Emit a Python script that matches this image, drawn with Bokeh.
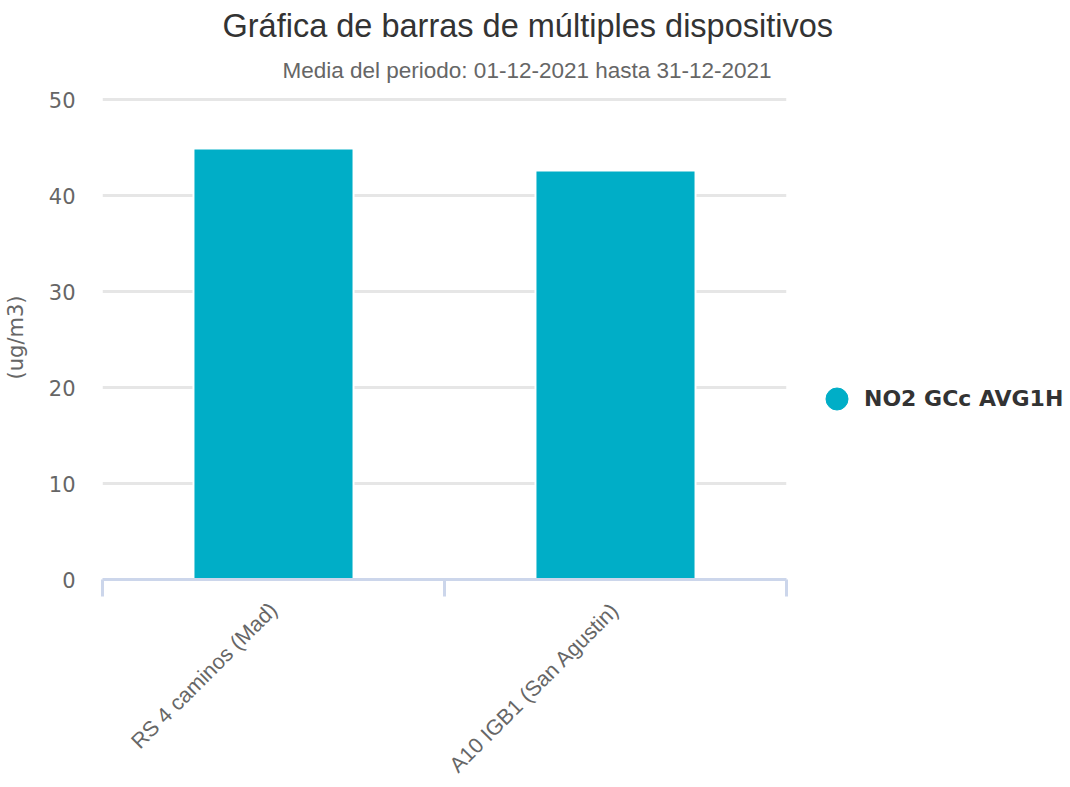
from math import pi
from bokeh.plotting import figure
from bokeh.models import (FixedTicker, Range1d, Title, Legend, LegendItem,
                          ColumnDataSource)
from bokeh.embed import file_html
from bokeh.resources import INLINE

# ---- data ----
categories = ["RS 4 caminos (Mad)", "A10 IGB1 (San Agustin)"]
values = [44.9, 42.6]
series_name = "NO2 GCc AVG1H"
title_text = "Gráfica de barras de múltiples dispositivos"
subtitle_text = "Media del periodo: 01-12-2021 hasta 31-12-2021"
y_label = "(ug/m3)"
y_ticks = [0, 10, 20, 30, 40, 50]

BAR = "#00aec7"
positions = [i + 0.5 for i in range(len(categories))]
boundaries = list(range(len(categories) + 1))

p = figure(frame_width=684, frame_height=484, title=None,
           x_range=Range1d(0, len(categories)), y_range=Range1d(0, 50.42),
           output_backend="svg", toolbar_location=None,
           min_border_left=0, min_border_right=0,
           min_border_top=0, min_border_bottom=0)
p.outline_line_color = None
p.background_fill_color = "white"
p.border_fill_color = "white"

src = ColumnDataSource(dict(x=positions, top=values, name=categories))
p.vbar(x="x", top="top", width=0.468, source=src, fill_color=BAR,
       line_color="white", line_width=2)

# grid
p.xgrid.visible = False
p.ygrid.grid_line_color = "#e6e6e6"
p.ygrid.grid_line_width = 3
p.ygrid.ticker = FixedTicker(ticks=y_ticks)

# y axis
ya = p.yaxis[0]
ya.ticker = FixedTicker(ticks=y_ticks)
ya.axis_line_color = None
ya.major_tick_line_color = None
ya.minor_tick_line_color = None
ya.major_label_standoff = 21
ya.major_label_text_font = "DejaVu Sans"
ya.major_label_text_font_size = "21px"
ya.major_label_text_color = "#666666"
ya.axis_label = y_label
ya.axis_label_text_font = "DejaVu Sans"
ya.axis_label_text_font_size = "21px"
ya.axis_label_text_font_style = "normal"
ya.axis_label_text_color = "#666666"
ya.axis_label_standoff = 18

# x axis: labels at category centres, boundary ticks as minor ticks
xa = p.xaxis[0]
xa.ticker = FixedTicker(ticks=positions, minor_ticks=boundaries)
xa.major_label_overrides = {pos: c for pos, c in zip(positions, categories)}
xa.major_label_orientation = pi / 4
xa.major_label_standoff = 10
xa.major_label_text_font = "Liberation Sans"
xa.major_label_text_font_size = "21.5px"
xa.major_label_text_color = "#666666"
xa.axis_line_color = "#ccd6eb"
xa.axis_line_width = 3
xa.major_tick_line_color = None
xa.major_tick_in = 0
xa.major_tick_out = 0
xa.minor_tick_line_color = "#ccd6eb"
xa.minor_tick_line_width = 3
xa.minor_tick_in = 0
xa.minor_tick_out = 17

# titles (first added is nearest to the frame)
sub = Title(text=subtitle_text, align="left", offset=180,
            text_font="Liberation Sans", text_font_size="22.5px",
            text_font_style="normal", text_color="#666666", standoff=25)
p.add_layout(sub, "above")
ttl = Title(text=title_text, align="left", offset=120,
            text_font="Liberation Sans", text_font_size="32.5px",
            text_font_style="normal", text_color="#333333", standoff=0)
p.add_layout(ttl, "above")
spacer = Title(text=" ", text_font_size="1px", standoff=2)
p.add_layout(spacer, "above")

# legend
dummy = p.scatter(x=[float("nan")], y=[float("nan")], marker="circle",
                  size=22, fill_color=BAR, line_color=BAR)
legend = Legend(items=[LegendItem(label=series_name, renderers=[dummy])],
                location=(23, 153), glyph_width=55, glyph_height=55,
                label_standoff=0, padding=0, margin=0, spacing=0,
                border_line_color=None, background_fill_alpha=0,
                label_text_font="DejaVu Sans", label_text_font_style="bold",
                label_text_font_size="22px", label_text_color="#333333")
p.add_layout(legend, "right")

open("out.html", "w").write(file_html(p, INLINE))
